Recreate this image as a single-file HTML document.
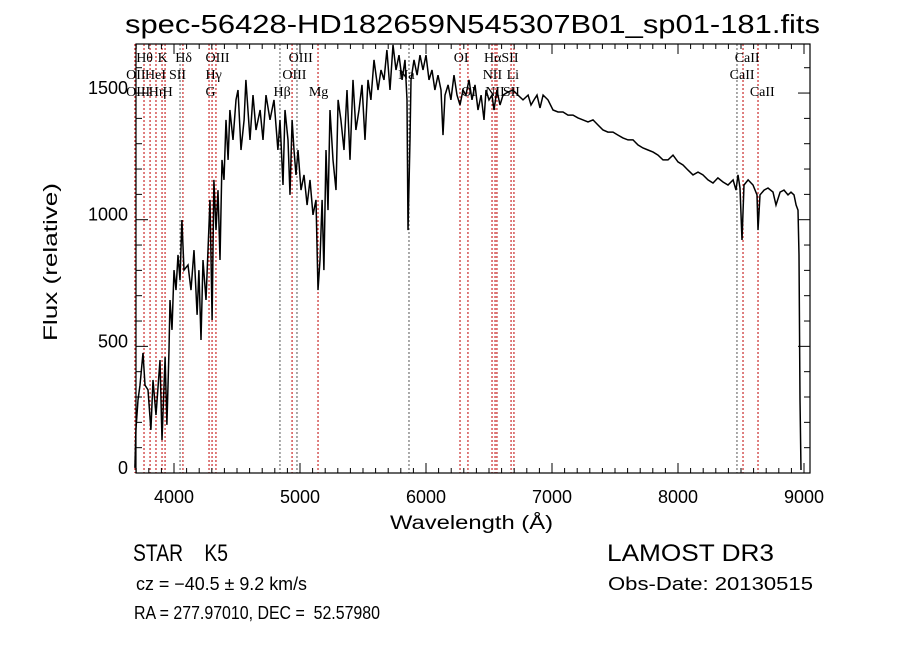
<!DOCTYPE html>
<html><head><meta charset="utf-8"><style>
html,body{margin:0;padding:0;background:#fff;}
svg{display:block;}
text{font-family:"Liberation Sans",sans-serif;fill:#000;white-space:pre;}
text.ser{font-family:"Liberation Serif",serif;}
</style></head><body>
<svg id="chart" width="900" height="649" viewBox="0 0 900 649" xmlns="http://www.w3.org/2000/svg">
<rect width="900" height="649" fill="#fff"/>
<text x="125" y="33" font-size="26" textLength="695" lengthAdjust="spacingAndGlyphs">spec-56428-HD182659N545307B01_sp01-181.fits</text>
<g id="lines"></g>
<g id="labels"></g>
<path id="spec" fill="none" stroke="#000" stroke-width="1.5"/>
<g id="axes"></g>
<text x="390" y="529" font-size="19" textLength="163" lengthAdjust="spacingAndGlyphs">Wavelength (Å)</text>
<text transform="translate(57,341) rotate(-90)" font-size="19" textLength="158" lengthAdjust="spacingAndGlyphs">Flux (relative)</text>
<text x="133" y="561" font-size="24" textLength="95" lengthAdjust="spacingAndGlyphs">STAR    K5</text>
<text x="607" y="561" font-size="24" textLength="167" lengthAdjust="spacingAndGlyphs">LAMOST DR3</text>
<text x="136" y="590" font-size="18" textLength="171" lengthAdjust="spacingAndGlyphs">cz = −40.5 ± 9.2 km/s</text>
<text x="608" y="590" font-size="18" textLength="205" lengthAdjust="spacingAndGlyphs">Obs-Date: 20130515</text>
<text x="134" y="619" font-size="18" textLength="246" lengthAdjust="spacingAndGlyphs">RA = 277.97010, DEC =  52.57980</text>
</svg>
<script>
const wave=[3690,3698,3714,3730,3754,3770,3794,3817,3833,3857,3889,3905,3929,3944,3960,3968,3984,4000,4016,4032,4048,4063,4079,4111,4135,4159,4183,4198,4214,4230,4254,4270,4286,4302,4317,4333,4349,4365,4381,4397,4413,4429,4444,4468,4492,4508,4532,4556,4571,4603,4627,4651,4683,4706,4730,4762,4794,4825,4841,4865,4881,4905,4921,4937,4952,4968,4984,5008,5032,5056,5079,5103,5127,5143,5159,5175,5190,5206,5222,5238,5262,5286,5302,5325,5349,5373,5397,5421,5444,5468,5492,5516,5540,5563,5587,5619,5643,5667,5690,5714,5738,5762,5786,5810,5833,5849,5857,5873,5881,5905,5929,5952,5976,6000,6024,6048,6071,6095,6119,6135,6151,6175,6198,6222,6246,6270,6294,6317,6341,6365,6389,6413,6437,6460,6476,6500,6524,6540,6563,6587,6611,6651,6690,6730,6770,6810,6833,6857,6881,6905,6929,6968,7008,7048,7087,7127,7167,7206,7246,7286,7325,7365,7405,7444,7484,7524,7563,7603,7643,7683,7722,7762,7802,7841,7881,7921,7960,8000,8040,8079,8119,8159,8198,8238,8278,8317,8357,8397,8437,8460,8476,8492,8508,8524,8556,8595,8627,8635,8651,8683,8714,8754,8778,8810,8841,8873,8897,8921,8937,8952,8960,8968,8976];
const flux=[20,170,288,347,474,347,328,170,367,229,446,130,458,190,486,683,565,801,722,861,762,999,801,821,722,880,624,801,525,841,683,880,1078,604,1157,959,1117,841,1236,1157,1394,1236,1433,1315,1473,1512,1275,1394,1552,1315,1492,1354,1433,1315,1492,1394,1473,1275,1394,1137,1433,1315,1098,1394,1275,1177,1275,1117,1177,1058,1157,1019,1078,722,841,1078,801,1275,1038,1433,1236,1117,1473,1394,1275,1512,1236,1552,1354,1433,1532,1315,1552,1473,1631,1512,1591,1552,1670,1512,1690,1591,1650,1552,1631,1473,959,1315,1552,1631,1571,1650,1591,1650,1552,1591,1512,1571,1512,1334,1492,1532,1473,1571,1492,1453,1512,1492,1552,1473,1532,1433,1492,1394,1512,1473,1492,1433,1512,1453,1492,1504,1512,1492,1473,1492,1453,1473,1492,1441,1492,1473,1433,1425,1425,1413,1413,1402,1394,1386,1394,1374,1354,1346,1346,1334,1323,1315,1315,1295,1283,1275,1267,1255,1236,1236,1255,1228,1216,1196,1177,1188,1177,1157,1145,1165,1149,1137,1157,1117,1177,1125,920,1137,1157,1137,1098,959,1098,1117,1125,1109,1058,1109,1117,1098,1109,1098,1058,1038,861,288,12];
const lineWave=[3690,3762,3810,3857,3905,3929,4048,4071,4278,4302,4333,4841,4937,4976,5143,5865,6270,6333,6524,6548,6563,6675,6698,8468,8516,8635];
const lineGray=[0,0,0,0,0,0,1,0,0,0,0,1,0,1,0,1,0,0,0,0,0,0,0,1,0,0];
const labelText=["Hθ","K","Hδ","OIII","OIII","OI","HαSII","CaII","OII","HeI","SII","Hγ","OIII","Na","NII","Li","CaII","OIII","Hη","H","G","Hβ","Mg","OI","NII","SII","CaII"];
const labelWave=[3700,3870,4010,4250,4910,6220,6460,8450,3620,3770,3960,4250,4860,5780,6450,6640,8410,3620,3800,3910,4250,4790,5070,6280,6470,6610,8570];
const labelRow=[0,0,0,0,0,0,0,0,1,1,1,1,1,1,1,1,1,2,2,2,2,2,2,2,2,2,2];
const xTicks=[4000,5000,6000,7000,8000,9000];
const yTicks=[0,500,1000,1500];
const X0=136,X1=810,Y0=44,Y1=473;
function x(w){return 174+(w-4000)*0.126;}
function y(f){return 473-f*0.2533;}
const NS="http://www.w3.org/2000/svg";
function mk(t,a,p){const e=document.createElementNS(NS,t);for(const k in a)e.setAttribute(k,a[k]);p.appendChild(e);return e;}
const lg=document.getElementById('lines');
lineWave.forEach((w,i)=>{const e=mk('line',{x1:x(w),x2:x(w),y1:Y0,y2:Y1,stroke:lineGray[i]?'#555':'#c00000','stroke-width':1,'stroke-dasharray':'2,2'},lg);

});
const lb=document.getElementById('labels');
labelText.forEach((t,i)=>{const e=mk('text',{x:x(labelWave[i]),y:62+labelRow[i]*17,'font-size':14,'class':'ser'},lb);e.textContent=t;

});
let d='';wave.forEach((w,i)=>{const yy=Math.max(Y0,y(flux[i]));d+=(i?'L':'M')+x(w).toFixed(1)+','+yy.toFixed(1);});
document.getElementById('spec').setAttribute('d',d);
const ax=document.getElementById('axes');
const fr=mk('rect',{x:X0,y:Y0,width:X1-X0,height:Y1-Y0,fill:'none',stroke:'#000','stroke-width':1.2},ax);


for(let w=3700;w<=9000;w+=100){const xx=x(w);if(xx<X0||xx>X1)continue;const L=(w%1000===0)?10:5;
mk('line',{x1:xx,x2:xx,y1:Y1,y2:Y1-L,stroke:'#000'},ax);mk('line',{x1:xx,x2:xx,y1:Y0,y2:Y0+L,stroke:'#000'},ax);}
for(let f=0;f<=1650;f+=100){const yy=y(f);const L=(f%500===0)?12:6;
mk('line',{x1:X0,x2:X0+L,y1:yy,y2:yy,stroke:'#000'},ax);mk('line',{x1:X1,x2:X1-L,y1:yy,y2:yy,stroke:'#000'},ax);}
xTicks.forEach(v=>{const e=mk('text',{x:x(v),y:503,'font-size':18,'text-anchor':'middle'},ax);e.textContent=v;

});
yTicks.forEach(v=>{const e=mk('text',{x:128,y:y(v)+1,'font-size':18,'text-anchor':'end'},ax);e.textContent=v;

});
</script>
</body></html>
